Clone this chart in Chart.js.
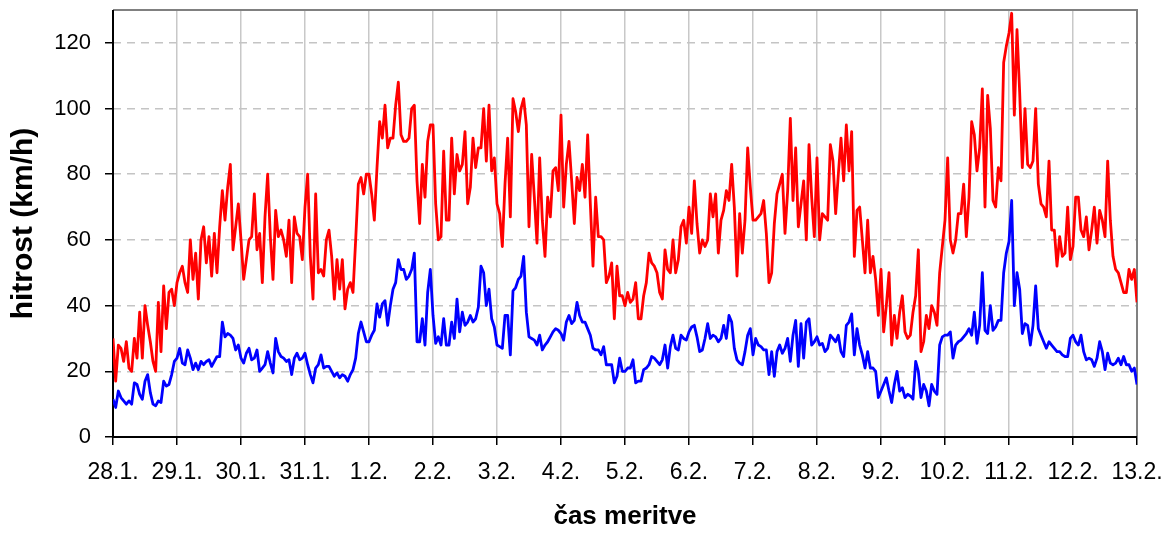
<!DOCTYPE html>
<html>
<head>
<meta charset="utf-8">
<title>hitrost</title>
<script src="https://cdn.jsdelivr.net/npm/chart.js@4.4.1/dist/chart.umd.min.js"></script>
<style>
  html, body { margin: 0; padding: 0; background: #fff; }
  #wrap { width: 1173px; height: 534px; }
</style>
</head>
<body>
<div id="wrap"><canvas id="speedChart" width="1173" height="534"></canvas></div>
<script>
// one label per day, hourly samples in between
const dayLabels = ['28.1.', '29.1.', '30.1.', '31.1.', '1.2.', '2.2.', '3.2.', '4.2.', '5.2.',
  '6.2.', '7.2.', '8.2.', '9.2.', '10.2.', '11.2.', '12.2.', '13.2.'];
const yTicks = [0, 20, 40, 60, 80, 100, 120];

// upper series (red), km/h, hourly
const redSpeed = [
  30,17,28,27,23,29,21,20,30,24, 38,24,40,34,29,23,20,41,26,46,
  33,44,45,40,47,50,52,47,44,60, 48,56,42,60,64,53,61,49,62,50,
  64,75,66,76,83,57,64,71,60,48, 54,60,61,74,57,62,47,67,80,61,
  48,69,61,63,60,55,66,47,67,62, 61,54,70,80,55,42,74,50,51,49,
  60,63,55,42,54,45,54,39,45,47, 44,60,77,79,74,80,80,74,66,82,
  96,91,101,88,91,91,101,108,92,90, 90,91,100,101,78,65,83,73,90,95,
  95,71,60,61,87,66,66,91,74,86, 81,83,93,71,76,91,82,88,88,100,
  84,101,81,85,71,68,58,77,91,67, 103,99,93,100,103,95,64,86,73,59,
  85,66,55,73,67,81,82,75,98,70, 83,90,78,65,79,75,83,73,92,71,
  52,73,61,61,60,47,49,53,36,52, 43,43,40,44,41,42,47,36,36,43,
  47,56,53,52,50,44,42,57,51,50, 60,50,54,64,66,59,70,62,78,65,
  56,60,58,60,74,67,74,56,66,69, 75,72,83,70,49,68,56,66,88,76,
  66,66,67,68,72,62,47,50,65,74, 77,80,62,75,97,72,88,64,71,78,
  60,89,73,61,85,60,68,67,66,89, 84,68,80,91,78,95,81,93,55,69,
  70,60,50,66,50,55,48,37,51,32, 40,50,28,37,30,38,43,32,30,31,
  38,43,57,26,29,37,33,40,38,34, 50,58,66,85,60,56,60,68,68,77,
  61,73,96,92,81,88,106,70,104,94, 72,70,82,78,114,119,123,129,98,124,
  105,82,100,83,82,84,100,77,71,70, 67,84,63,63,52,61,55,56,70,54,
  58,73,73,63,61,67,57,63,70,59, 69,66,61,84,66,55,51,50,47,44,
  44,51,48,51,41
];

// lower series (blue), km/h, hourly
const blueSpeed = [
  11.5,9,14,12,11,10,11,10,16.5,16, 13,11.5,17,19,13.5,10,9.5,11,10.5,17,
  15.5,16,19,23,24,27,22.5,22,26.5,24, 20.5,22.5,20.5,23,22,23,23.5,21.5,23,24.5,
  24.5,35,30.5,31.5,31,30,26.5,28,24,22.5, 25.5,27,23.5,24,26.5,20,21,22,26,22.5,
  19.5,30,26,24.5,24,23,23.5,19,24,25.5, 23.5,24,25.5,22,19,16.5,21,22,25,21,
  21.5,21.5,20,18.5,19.5,18,19,18.5,17,19, 20.5,24,31.5,35,32,29,29,31,32.5,40.5,
  36.5,40.5,41.5,34,40,45,47,54,51,51, 48,49,51,56,29,29,36,28,44,51,
  37,28.5,30.5,28,36,28,28,35,30,42, 32,38,34,35,37,35,36,39.5,52,50,
  40,45,36,33.5,28,27.5,27,37,37,25, 44.5,45.5,48,49,55,38,30.5,30,29.5,28,
  31,26.5,28,29,30.5,32,33,32.5,31.5,29.5, 35,37,34.5,35.5,41,37,35,35,33,31,
  27,26.5,26.5,25,27.5,22,22,22,16.5,18.5, 24,20,20,21,21,23.5,16.5,17,17,20.5,
  21,22,24.5,24,23,22,23.5,28,21,27.5, 31,27,26.5,31,30,29.5,32,33.5,34,30.5,
  26,26.5,30,34.5,30,31,30.5,29,30,34, 30,37,35,27,23.5,22.5,22,26,31,33,
  25,30,28,27.5,26.5,26.5,19,26,18.5,26, 28,25.5,27,30,23,31,35.5,21.5,34.5,24,
  35,36,28,29,30.5,28,28.5,26,27,31, 30,29,31,26,24.5,34,35,37.5,25,33,
  28,25,21,26,21,21,20,12,14,16, 18,14,10.5,16,20,14,15,12,13,12.5,
  11.5,23,20,12,16,14,9.5,16,14,13, 28,30.5,31,31,32,24,28,29,29.5,30.5,
  31.5,33,31,38,28.5,34,50,32.5,31.5,40, 32.5,33.5,35.5,35.5,50,56,59.5,72,40,50,
  45,31.5,34.5,34,28,34,46,33,31,29, 27,29,28,27,26,26,25,24.5,24.5,30,
  31,29,28,31,26,23.5,24,23.5,21.5,24, 29,26,20.5,25.5,22.5,22,22.5,24,22,24.5,
  22,22,20,21,16
];

const hours = redSpeed.map((_, i) => i);

const FONT = "'Liberation Sans', Arial, sans-serif";
Chart.defaults.font.family = FONT;
Chart.defaults.color = '#000';

// plot frame: black axes left/bottom, grey edges top/right
const framePlugin = {
  id: 'frame',
  beforeDatasetsDraw(chart) {
    const { ctx, chartArea: a } = chart;
    ctx.save();
    ctx.lineWidth = 2;
    ctx.strokeStyle = '#808080';
    ctx.beginPath();
    ctx.moveTo(a.left, a.top);
    ctx.lineTo(a.right, a.top);
    ctx.lineTo(a.right, a.bottom);
    ctx.stroke();
    ctx.strokeStyle = '#000';
    ctx.beginPath();
    ctx.moveTo(a.left, a.top);
    ctx.lineTo(a.left, a.bottom);
    ctx.lineTo(a.right, a.bottom);
    ctx.stroke();
    ctx.restore();
  }
};

const ctx = document.getElementById('speedChart').getContext('2d');
new Chart(ctx, {
  type: 'line',
  data: {
    labels: hours,
    datasets: [
      { data: redSpeed, borderColor: '#ff0000', borderWidth: 2.8, pointRadius: 0, borderJoinStyle: 'round', tension: 0 },
      { data: blueSpeed, borderColor: '#0000ff', borderWidth: 2.8, pointRadius: 0, borderJoinStyle: 'round', tension: 0 }
    ]
  },
  options: {
    responsive: false,
    animation: false,
    devicePixelRatio: 1,
    layout: { padding: { top: 10, right: 36, left: 0, bottom: 0 } },
    plugins: { legend: { display: false }, tooltip: { enabled: false } },
    scales: {
      x: {
        type: 'linear',
        min: 0,
        max: (dayLabels.length - 1) * 24,
        afterFit: s => { s.height = 97; s.paddingLeft = 0; s.paddingRight = 0; },
        ticks: {
          stepSize: 24,
          maxTicksLimit: 30,
          autoSkip: false,
          maxRotation: 0,
          padding: 14,
          font: { size: 23 },
          callback: v => dayLabels[Math.round(v / 24)]
        },
        grid: { color: '#c8c8c8', lineWidth: 1.5, tickLength: 8, tickColor: '#000', tickWidth: 1.5 },
        border: { display: false },
        title: {
          display: true,
          text: 'čas meritve',
          font: { size: 26, weight: 'bold' },
          padding: { top: 0, bottom: 2 }
        }
      },
      y: {
        min: 0,
        max: 130,
        bounds: 'data',
        afterBuildTicks: s => { s.ticks = yTicks.map(v => ({ value: v })); },
        afterFit: s => { s.width = 113; s.paddingTop = 0; s.paddingBottom = 0; },
        ticks: { padding: 14, font: { size: 22 } },
        grid: { color: '#c4c4c4', lineWidth: 1.5, tickLength: 8, tickColor: '#000', tickWidth: 1.5 },
        border: { display: false, dash: [8, 6] },
        title: {
          display: true,
          text: 'hitrost (km/h)',
          font: { size: 30, weight: 'bold' },
          padding: { top: 6, bottom: 0 }
        }
      }
    }
  },
  plugins: [framePlugin]
});
</script>
</body>
</html>
